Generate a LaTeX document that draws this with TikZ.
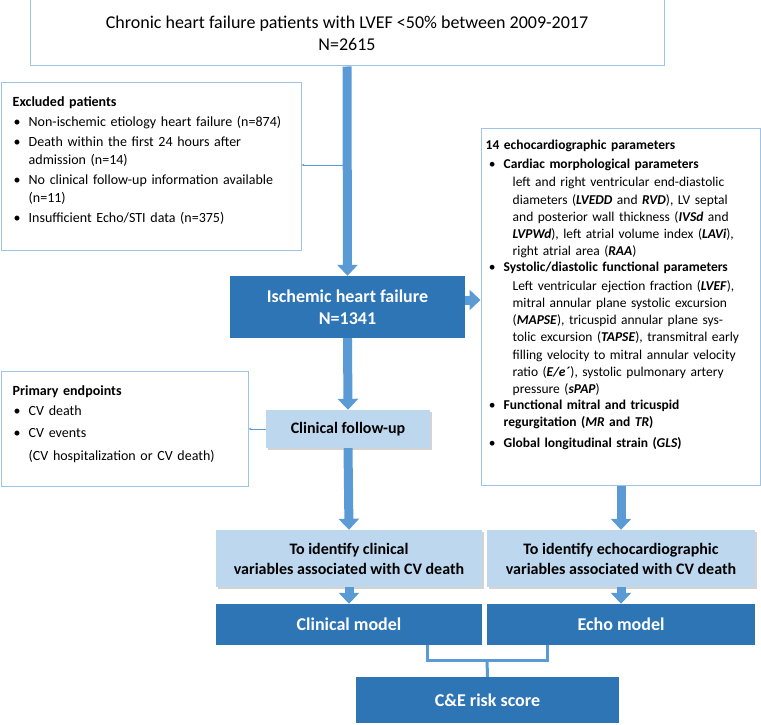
\documentclass[tikz,border=0pt]{standalone}
\usepackage{fontspec}
\setmainfont{Carlito}
\usepackage{enumitem}
\usetikzlibrary{arrows.meta,shadows}
\definecolor{darkbl}{HTML}{2E75B6}
\definecolor{lightbl}{HTML}{BDD7EE}
\definecolor{arrowbl}{HTML}{5B9BD5}
\definecolor{edgebl}{HTML}{9DC3E6}
\newcommand{\bi}[1]{\textbf{\textit{#1}}}
\setlist[itemize]{label=\textbullet,leftmargin=16pt,labelsep=8pt,itemsep=3pt,topsep=2pt,parsep=0pt}

\begin{document}
\begin{tikzpicture}[x=1pt,y=-1pt,
  whitebox/.style={draw=edgebl,line width=1pt,fill=white,inner sep=0pt},
  darkbox/.style={fill=darkbl,text=white,font=\fontsize{18}{22}\selectfont\bfseries,align=center,inner sep=0pt},
  lightbox/.style={fill=lightbl,align=center,inner sep=0pt,font=\fontsize{16}{20}\selectfont\bfseries,
    drop shadow={shadow xshift=1.5pt,shadow yshift=-1.5pt,opacity=0.35}},
  bigarrow/.style={draw=arrowbl,line width=9pt,-{Triangle[width=20pt,length=11pt]}},
  thinarrow/.style={draw=arrowbl,line width=0.6pt,-{Stealth[length=3pt]}}]
\useasboundingbox (0,0) rectangle (761,725);

% boxes
\node[whitebox,minimum width=634pt,minimum height=66pt,align=center,font=\fontsize{18}{22}\selectfont] (top) at (347,33)
  {Chronic heart failure patients with LVEF <50\% between 2009-2017\\N=2615};
\node[whitebox,minimum width=300pt,minimum height=167pt] (excl) at (151,166.5) {};
\node[anchor=north west,text width=285pt,font=\fontsize{14}{17.5}\selectfont,inner sep=0pt] at (excl.north west) [xshift=12pt,yshift=-14pt]
  {\textbf{Excluded patients}
  \begin{itemize}
  \item Non-ischemic etiology heart failure (n=874)
  \item Death within the first 24 hours after admission (n=14)
  \item No clinical follow-up information available (n=11)
  \item Insufficient Echo/STI data (n=375)
  \end{itemize}};
\node[darkbox,minimum width=235pt,minimum height=62pt] (isch) at (347.5,307) {Ischemic heart failure\\N=1341};
\node[whitebox,minimum width=279pt,minimum height=357pt] (echo) at (620.5,306.5) {};
\node[anchor=north west,text width=270pt,font=\fontsize{13.5}{17.3}\selectfont,inner sep=0pt] at (echo.north west) [xshift=5pt,yshift=-12pt]
  {\textbf{14 echocardiographic parameters}
  \begin{itemize}[leftmargin=18pt,labelsep=8pt]
  \item \textbf{Cardiac morphological parameters}\\[1pt]
    \hspace*{9pt}\parbox[t]{230pt}{left and right ventricular end-diastolic diameters (\bi{LVEDD} and \bi{RVD}), LV septal and posterior wall thickness (\bi{IVSd} and \bi{LVPWd}), left atrial volume index (\bi{LAVi}), right atrial area (\bi{RAA})}
  \item \textbf{Systolic/diastolic functional parameters}\\[1pt]
    \hspace*{9pt}\parbox[t]{230pt}{Left ventricular ejection fraction (\bi{LVEF}), mitral annular plane systolic excursion (\bi{MAPSE}), tricuspid annular plane systolic excursion (\bi{TAPSE}), transmitral early filling velocity to mitral annular velocity ratio (\bi{E/e\textasciiacute}), systolic pulmonary artery pressure (\bi{sPAP})}
  \item \textbf{Functional mitral and tricuspid regurgitation (\textit{MR} and \textit{TR})}
  \item \textbf{Global longitudinal strain (\textit{GLS})}
  \end{itemize}};
\node[lightbox,minimum width=164pt,minimum height=38pt] (fup) at (348,429) {Clinical follow-up};
\node[whitebox,minimum width=247pt,minimum height=115pt] (prim) at (124.5,428.5) {};
\node[anchor=north west,text width=235pt,font=\fontsize{14}{17.5}\selectfont,inner sep=0pt] at (prim.north west) [xshift=12pt,yshift=-15pt]
  {\textbf{Primary endpoints}
  \begin{itemize}[itemsep=5pt]
  \item CV death
  \item CV events\\[5pt](CV hospitalization or CV death)
  \end{itemize}};
\node[lightbox,minimum width=266pt,minimum height=57pt] (clinvar) at (349,558.5) {To identify clinical\\variables associated with CV death};
\node[lightbox,minimum width=268pt,minimum height=57pt] (echovar) at (621,558.5) {To identify echocardiographic\\variables associated with CV death};
\node[darkbox,minimum width=266pt,minimum height=41pt] (clinmod) at (349,624.5) {Clinical model};
\node[darkbox,minimum width=268pt,minimum height=41pt] (echomod) at (621,624.5) {Echo model};
\node[darkbox,minimum width=263pt,minimum height=46pt] (score) at (487.5,700) {C\&E risk score};

% connectors
\coordinate (j1) at (347,165);
\coordinate (cl) at (427,645);
\coordinate (cr) at (547,645);
\draw[bigarrow] (top.south) -- (isch.north);
\draw[thinarrow] (j1) -- (excl.east |- j1);
\draw[bigarrow] (isch.east |- 0,300) -- (echo.west |- 0,300);
\draw[bigarrow] (isch.south) -- (fup.north);
\draw[thinarrow] (fup.west) -- (prim.east |- fup.west);
\draw[bigarrow] (fup.south) -- (clinvar.north);
\draw[bigarrow] (echo.south -| echovar.north) -- (echovar.north);
\draw[bigarrow] (clinvar.south) -- (clinmod.north);
\draw[bigarrow] (echovar.south) -- (echomod.north);
\draw[draw=arrowbl,line width=3pt] (cl) -- ++(0,15) -| (cr);
\draw[draw=arrowbl,line width=3pt] (487,660) -- (score.north);
\end{tikzpicture}
\end{document}
